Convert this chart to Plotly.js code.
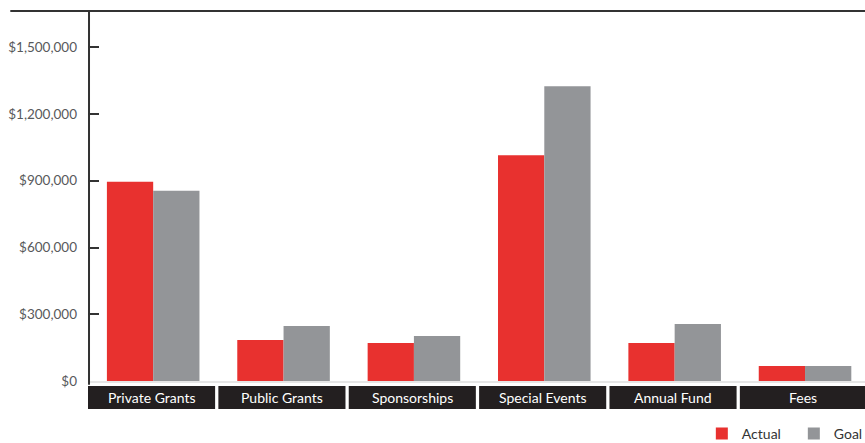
<!DOCTYPE html>
<html>
<head>
<meta charset="utf-8">
<script src="https://cdn.plot.ly/plotly-3.0.1.min.js"></script>
<style>html,body{margin:0;padding:0;background:#fff;}#chart{width:865px;height:443px;}</style>
</head>
<body>
<div id="chart"></div>
<script>
const categories = ["Private Grants", "Public Grants", "Sponsorships", "Special Events", "Annual Fund", "Fees"];
const actual = [895000, 184000, 171000, 1015000, 171000, 67000];
const goal = [855000, 247000, 202000, 1325000, 256000, 67000];
const tickVals = [0, 300000, 600000, 900000, 1200000, 1500000];
const tickText = ["$0", "$300,000", "$600,000", "$900,000", "$1,200,000", "$1,500,000"];

const FONT = "Lato, 'Open Sans', sans-serif";
const idx = categories.map((c, i) => i);

const traces = [
  {type: "bar", name: "Actual", x: idx, y: actual, marker: {color: "#e8312f"}, hoverinfo: "none"},
  {type: "bar", name: "Goal", x: idx, y: goal, marker: {color: "#939598"}, hoverinfo: "none"}
];

const shapes = [
  {type: "line", xref: "paper", yref: "paper", x0: -0.1, x1: 1, y0: 1, y1: 1, line: {color: "#333333", width: 2}},
  {type: "line", xref: "paper", yref: "paper", x0: 0.0013, x1: 0.0013, y0: 1, y1: -0.01, line: {color: "#333333", width: 2}}
];
const annotations = [];
categories.forEach((c, i) => {
  shapes.push({type: "rect", xref: "x", yref: "paper", x0: i - 0.5, x1: i + 0.475, y0: -0.0135, y1: -0.0757,
    fillcolor: "#231f20", line: {width: 0}, layer: "above"});
  annotations.push({xref: "x", yref: "paper", x: i - 0.0125, y: -0.0446, text: c, showarrow: false,
    xanchor: "center", yanchor: "middle", font: {family: FONT, size: 14, color: "#ffffff"}});
});

const layout = {
  width: 865, height: 443,
  margin: {l: 88, r: 0, t: 11, b: 62, pad: 0, autoexpand: false},
  paper_bgcolor: "#ffffff", plot_bgcolor: "#ffffff",
  barmode: "group", bargap: 0.29, bargroupgap: 0,
  font: {family: FONT},
  xaxis: {range: [-0.5, 5.46], showticklabels: false, ticks: "", showgrid: false, zeroline: false,
    showline: true, linecolor: "#e6e6e6", linewidth: 2, fixedrange: true},
  yaxis: {range: [0, 1663000], tickvals: tickVals, ticktext: tickText, ticks: "inside", ticklen: 11,
    tickwidth: 2, tickcolor: "#333333", showgrid: false, zeroline: false, showline: false,
    tickfont: {family: FONT, size: 13.5, color: "#58595b"}, ticklabelstandoff: 10, fixedrange: true},
  shapes: shapes,
  annotations: annotations,
  showlegend: true,
  legend: {orientation: "h", x: 0.79, xanchor: "left", y: -0.1, yanchor: "top", entrywidth: 47,
    font: {family: FONT, size: 14, color: "#333333"}, bgcolor: "rgba(0,0,0,0)", itemclick: false, itemdoubleclick: false}
};

Plotly.newPlot("chart", traces, layout, {displayModeBar: false, staticPlot: true});
</script>
</body>
</html>
